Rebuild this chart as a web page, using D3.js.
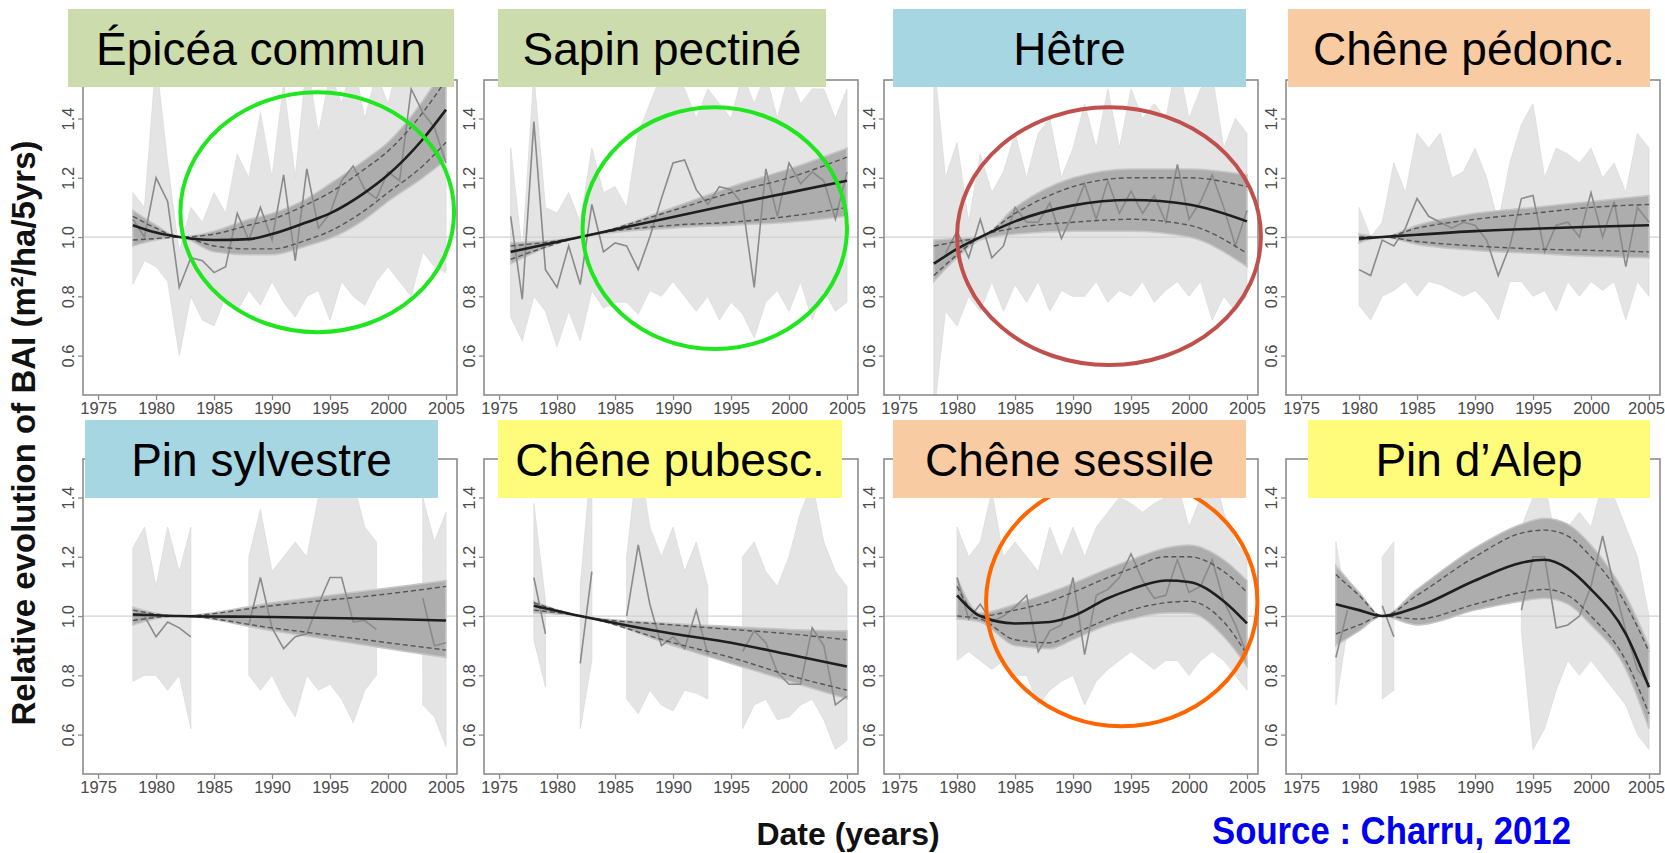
<!DOCTYPE html>
<html>
<head>
<meta charset="utf-8">
<script src="https://cdn.jsdelivr.net/npm/d3@7"></script>
<style>
  body { margin: 0; background: #fff; }
  svg { display: block; font-family: "Liberation Sans", Arial, Helvetica, sans-serif; }
</style>
</head>
<body>
<svg id="chart" width="1665" height="853"></svg>
<script>
// ---------- data ----------
const species = ['Épicéa commun', 'Sapin pectiné', 'Hêtre', 'Chêne pédonc.',
  'Pin sylvestre', 'Chêne pubesc.', 'Chêne sessile', 'Pin d’Alep'];
const firstYear = [1978, 1976, 1978, 1980, 1978, 1978, 1980, 1978];
const xTicks = [1975, 1980, 1985, 1990, 1995, 2000, 2005];
const yTicks = [0.6, 0.8, 1.0, 1.2, 1.4];

// observed relative BAI (grey zigzag), one value per year from firstYear
const epiceaObs = [1.06, 1.0, 1.2, 1.12, 0.83, 0.93, 0.92, 0.88, 0.9, 1.08, 0.99, 1.1, 0.99, 1.21, 0.92, 1.23, 1.03, 1.08, 1.19, 1.24, 1.16, 1.13, 1.22, 1.19, 1.5, 1.42, 1.37, 1.25];
const sapinObs = [1.07, 0.79, 1.39, 0.89, 0.83, 0.97, 0.84, 1.11, 0.95, 0.98, 0.97, 0.89, 1.0, 1.13, 1.25, 1.26, 1.16, 1.11, 1.17, 1.16, 1.11, 0.83, 1.23, 1.07, 1.25, 1.18, 1.22, 1.19, 1.06, 1.22];
const hetreObs = [null, 0.945, 1.02, 0.93, 1.06, 0.93, 0.97, 1.1, 1.05, 1.05, 1.115, 0.995, 1.08, 1.18, 1.06, 1.19, 1.08, 1.155, 1.08, 1.14, 1.05, 1.245, 1.06, 1.12, 1.21, 1.1, 0.97, 1.09];
const pedoncObs = [0.89, 0.87, 0.99, 0.97, 1.03, 1.13, 1.07, 1.05, 1.03, 1.05, 1.04, 0.99, 0.87, 0.97, 1.13, 1.14, 0.95, 1.04, 1.05, 1.0, 1.15, 1.0, 1.12, 0.9, 1.1, 1.05];
const sylvestreObs = [1.0, 1.0, 0.93, 0.98, 0.96, 0.93, null, null, null, null, 0.97, 1.13, 0.96, 0.89, 0.93, 0.94, 1.04, 1.13, 1.13, 0.98, 0.985, 0.955, null, null, null, 1.06, 0.9, 0.91];
const pubescObs = [1.13, 0.94, null, null, 0.84, 1.15, null, null, 1.0, 1.24, 1.04, 0.9, 0.93, 0.89, 1.02, 0.87, null, null, 0.88, 0.95, 0.91, 0.81, 0.77, 0.77, 0.96, 0.9, 0.7, 0.73];
const sessileObs = [1.13, 0.99, 1.04, 0.98, 1.0, 1.03, 1.07, 0.88, 0.95, 0.97, 1.13, 0.87, 1.07, 1.09, 1.13, 1.21, 1.12, 1.06, 1.07, 1.19, 1.08, 1.1, 1.19, 1.05, 0.97, 0.87];
const alepObs = [0.86, 1.02, null, null, 1.035, 0.93, null, null, null, null, null, null, null, null, null, null, 1.02, 1.2, 1.2, 0.96, 0.97, 1.0, 1.1, 1.27, 1.1, 0.95, 0.82, 0.77];

// envelope of the individual-plot series (light grey cloud), per year
const epiceaNoiseHi = [1.15, 1.1, 1.6, 1.25, 0.95, 1.1, 1.05, 1.15, 1.08, 1.28, 1.2, 1.42, 1.2, 1.52, 1.2, 1.6, 1.35, 1.55, 1.45, 1.6, 1.4, 1.55, 1.45, 1.6, 1.5, 1.6, 1.6, 1.6];
const epiceaNoiseLo = [0.84, 0.92, 0.9, 0.85, 0.6, 0.8, 0.72, 0.7, 0.8, 0.75, 0.82, 0.77, 0.85, 0.78, 0.73, 0.8, 0.82, 0.72, 0.85, 0.8, 0.77, 0.85, 0.9, 0.85, 0.8, 0.95, 0.9, 0.88];
const sapinNoiseHi = [1.3, 0.95, 1.55, 1.1, 1.08, 1.15, 1.05, 1.3, 1.15, 1.17, 1.1, 1.35, 1.45, 1.55, 1.55, 1.5, 1.4, 1.5, 1.45, 1.4, 1.55, 1.45, 1.55, 1.4, 1.55, 1.45, 1.5, 1.5, 1.4, 1.5];
const sapinNoiseLo = [0.73, 0.65, 0.8, 0.75, 0.63, 0.75, 0.65, 0.82, 0.76, 0.78, 0.78, 0.74, 0.82, 0.8, 0.85, 0.8, 0.75, 0.8, 0.72, 0.78, 0.74, 0.66, 0.78, 0.82, 0.75, 0.85, 0.72, 0.82, 0.75, 0.78];
const hetreNoiseHi = [1.6, 1.2, 1.32, 1.05, 1.28, 1.15, 1.22, 1.35, 1.2, 1.35, 1.4, 1.2, 1.3, 1.45, 1.3, 1.5, 1.3, 1.5, 1.4, 1.45, 1.4, 1.6, 1.4, 1.5, 1.55, 1.3, 1.4, 1.35];
const hetreNoiseLo = [0.4, 0.75, 0.7, 0.8, 0.75, 0.85, 0.75, 0.84, 0.78, 0.85, 0.75, 0.82, 0.8, 0.8, 0.85, 0.78, 0.82, 0.8, 0.85, 0.78, 0.82, 0.85, 0.8, 0.85, 0.72, 0.8, 0.75, 0.8];
const pedoncNoiseHi = [1.1, 1.0, 1.05, 1.25, 1.15, 1.35, 1.3, 1.35, 1.2, 1.22, 1.3, 1.2, 1.05, 1.25, 1.38, 1.45, 1.2, 1.3, 1.28, 1.25, 1.3, 1.2, 1.25, 1.15, 1.35, 1.3];
const pedoncNoiseLo = [0.77, 0.72, 0.8, 0.82, 0.85, 0.8, 0.85, 0.84, 0.82, 0.8, 0.82, 0.78, 0.72, 0.85, 0.85, 0.8, 0.82, 0.75, 0.85, 0.8, 0.85, 0.82, 0.85, 0.72, 0.85, 0.8];
const sylvestreNoiseHi = [1.23, 1.3, 1.1, 1.3, 1.15, 1.3, null, null, null, null, 1.2, 1.36, 1.15, 1.2, 1.25, 1.2, 1.4, 1.5, 1.5, 1.45, 1.3, 1.25, null, null, null, 1.4, 1.25, 1.35];
const sylvestreNoiseLo = [0.78, 0.8, 0.8, 0.75, 0.8, 0.62, null, null, null, null, 0.8, 0.75, 0.8, 0.72, 0.66, 0.8, 0.75, 0.77, 0.72, 0.64, 0.75, 0.8, null, null, null, 0.7, 0.66, 0.56];
const pubescNoiseHi = [1.38, 1.05, null, null, 1.1, 1.55, null, null, 1.2, 1.55, 1.3, 1.2, 1.3, 1.15, 1.25, 1.1, null, null, 1.2, 1.25, 1.15, 1.1, 1.2, 1.35, 1.45, 1.25, 1.15, 1.1];
const pubescNoiseLo = [0.92, 0.76, null, null, 0.62, 0.85, null, null, 0.72, 0.67, 0.75, 0.7, 0.68, 0.75, 0.74, 0.72, null, null, 0.62, 0.7, 0.72, 0.65, 0.66, 0.7, 0.72, 0.65, 0.55, 0.58];
const sessileNoiseHi = [1.3, 1.2, 1.25, 1.42, 1.2, 1.25, 1.2, 1.15, 1.3, 1.2, 1.3, 1.2, 1.3, 1.35, 1.4, 1.38, 1.35, 1.38, 1.4, 1.45, 1.3, 1.4, 1.5, 1.35, 1.25, 1.2];
const sessileNoiseLo = [0.85, 0.88, 0.85, 0.82, 0.85, 0.8, 0.8, 0.7, 0.75, 0.78, 0.8, 0.7, 0.78, 0.82, 0.85, 0.88, 0.85, 0.82, 0.85, 0.85, 0.8, 0.85, 0.88, 0.85, 0.8, 0.75];
const alepNoiseHi = [1.25, 1.02, null, null, 1.2, 1.25, null, null, null, null, null, null, null, null, null, null, 1.3, 1.4, 1.45, 1.25, 1.3, 1.35, 1.3, 1.45, 1.4, 1.3, 1.2, 1.0];
const alepNoiseLo = [0.7, 0.96, null, null, 0.72, 0.75, null, null, null, null, null, null, null, null, null, null, 0.95, 0.55, 0.62, 0.75, 0.85, 0.8, 0.85, 0.8, 0.75, 0.7, 0.6, 0.55];

// fitted trend (black), its dashed interval and the bootstrap band (dark grey)
const epiceaKnots = [1978, 1980, 1982, 1985, 1988, 1990, 1993, 1995, 1998, 2000, 2003, 2005];
const epiceaMean = [1.04, 1.015, 1.0, 0.99, 0.993, 1.01, 1.05, 1.08, 1.15, 1.21, 1.33, 1.43];
const epiceaDashHi = [1.07, 1.03, 1.0, 1.01, 1.04, 1.06, 1.11, 1.15, 1.23, 1.29, 1.42, 1.53];
const epiceaDashLo = [0.99, 0.995, 1.0, 0.97, 0.96, 0.96, 0.99, 1.02, 1.09, 1.15, 1.24, 1.32];
const epiceaBandHi = [1.09, 1.04, 1.0, 1.02, 1.06, 1.08, 1.13, 1.18, 1.26, 1.32, 1.46, 1.58];
const epiceaBandLo = [0.97, 0.99, 1.0, 0.95, 0.94, 0.94, 0.97, 0.995, 1.06, 1.12, 1.2, 1.26];

const sapinKnots = [1976, 1982, 1990, 1995, 2000, 2005];
const sapinMean = [0.95, 1.0, 1.068, 1.11, 1.15, 1.19];
const sapinDashHi = [0.97, 1.0, 1.09, 1.15, 1.2, 1.27];
const sapinDashLo = [0.925, 1.0, 1.04, 1.05, 1.07, 1.1];
const sapinBandHi = [0.98, 1.0, 1.1, 1.17, 1.23, 1.3];
const sapinBandLo = [0.91, 1.0, 1.03, 1.04, 1.05, 1.07];

const hetreKnots = [1978, 1980, 1982, 1985, 1990, 1995, 2000, 2005];
const hetreMean = [0.91, 0.96, 1.0, 1.053, 1.107, 1.125, 1.11, 1.053];
const hetreDashHi = [0.97, 0.985, 1.0, 1.08, 1.17, 1.2, 1.2, 1.17];
const hetreDashLo = [0.87, 0.94, 1.0, 1.03, 1.05, 1.06, 1.04, 0.945];
const hetreBandHi = [0.99, 0.995, 1.0, 1.1, 1.2, 1.23, 1.23, 1.21];
const hetreBandLo = [0.85, 0.93, 0.99, 1.01, 1.02, 1.02, 1.0, 0.9];

const pedoncKnots = [1980, 1982, 1985, 1990, 1995, 2000, 2005];
const pedoncMean = [0.995, 1.0, 1.008, 1.02, 1.028, 1.035, 1.04];
const pedoncDashHi = [1.0, 1.0, 1.03, 1.06, 1.08, 1.1, 1.11];
const pedoncDashLo = [0.99, 1.0, 0.985, 0.97, 0.96, 0.955, 0.95];
const pedoncBandHi = [1.01, 1.0, 1.04, 1.08, 1.1, 1.12, 1.14];
const pedoncBandLo = [0.98, 1.0, 0.975, 0.955, 0.945, 0.935, 0.93];

const sylvestreKnots = [1978, 1982, 1990, 2000, 2005];
const sylvestreMean = [1.005, 1.0, 0.997, 0.99, 0.985];
const sylvestreDashHi = [1.02, 1.0, 1.035, 1.075, 1.1];
const sylvestreDashLo = [0.985, 1.0, 0.96, 0.91, 0.885];
const sylvestreBandHi = [1.03, 1.0, 1.045, 1.095, 1.12];
const sylvestreBandLo = [0.97, 1.0, 0.95, 0.89, 0.86];

const pubescKnots = [1978, 1982, 1990, 1995, 2000, 2005];
const pubescMean = [1.035, 1.0, 0.94, 0.91, 0.87, 0.83];
const pubescDashHi = [1.045, 1.0, 0.97, 0.955, 0.94, 0.92];
const pubescDashLo = [1.02, 1.0, 0.91, 0.86, 0.8, 0.75];
const pubescBandHi = [1.05, 1.0, 0.975, 0.965, 0.955, 0.95];
const pubescBandLo = [1.01, 1.0, 0.9, 0.84, 0.78, 0.72];

const sessileKnots = [1980, 1982, 1985, 1988, 1990, 1993, 1995, 1998, 2000, 2003, 2005];
const sessileMean = [1.07, 1.0, 0.975, 0.98, 1.0, 1.06, 1.09, 1.12, 1.115, 1.05, 0.975];
const sessileDashHi = [1.1, 1.0, 1.02, 1.05, 1.08, 1.13, 1.16, 1.2, 1.2, 1.15, 1.08];
const sessileDashLo = [1.0, 0.99, 0.92, 0.91, 0.94, 0.99, 1.02, 1.045, 1.05, 0.98, 0.87];
const sessileBandHi = [1.13, 1.01, 1.04, 1.08, 1.11, 1.16, 1.19, 1.23, 1.24, 1.19, 1.12];
const sessileBandLo = [0.99, 0.98, 0.9, 0.89, 0.92, 0.97, 0.99, 1.01, 1.01, 0.93, 0.83];

const alepKnots = [1978, 1980, 1982, 1985, 1990, 1994, 1996, 1998, 2000, 2003, 2005];
const alepMean = [1.04, 1.02, 1.0, 1.03, 1.12, 1.18, 1.19, 1.16, 1.09, 0.94, 0.76];
const alepDashHi = [1.14, 1.07, 1.0, 1.07, 1.2, 1.28, 1.29, 1.27, 1.2, 1.04, 0.88];
const alepDashLo = [0.94, 0.97, 1.0, 0.99, 1.04, 1.08, 1.09, 1.07, 1.0, 0.85, 0.67];
const alepBandHi = [1.17, 1.08, 1.0, 1.09, 1.23, 1.31, 1.33, 1.31, 1.24, 1.07, 0.9];
const alepBandLo = [0.9, 0.95, 1.0, 0.97, 1.02, 1.05, 1.06, 1.04, 0.97, 0.82, 0.62];

// highlighted regions (ellipses), in data units of their panel
const ringPanel = [0, 1, 2, 6];
const ringYear = [1993.9, 1993.6, 1993.1, 1994.2];
const ringValue = [1.084, 1.03, 1.003, 1.048];
const ringHalfYears = [11.8, 11.4, 13.1, 11.7];
const ringHalfValue = [0.405, 0.408, 0.435, 0.42];

// ---------- styling ----------
const labelFill = ['#cddcac', '#cddcac', '#a6d6e2', '#f9cba2', '#a6d6e2', '#fffb7b', '#f9cba2', '#fffb7b'];
const ringStroke = ['#1fe61f', '#1fe61f', '#c0504d', '#ff6600'];
const labelBox = [[68, 454], [498, 826], [893, 1246], [1288, 1650], [85, 438], [498, 842], [893, 1246], [1308, 1650]];

// ---------- layout ----------
const colLeft = [83, 484, 884, 1286];
const rowTop = [80, 459];
const labelTop = [9, 420];
const panelW = 374;
const panelH = 315;

const svg = d3.select('#chart');

const x = d3.scaleLinear().domain([1973.7, 2005.95]).range([0, panelW]);
const y = d3.scaleLinear().domain([0.467, 1.53]).range([panelH, 0]);

const series = [
  ['epicea', epiceaObs, epiceaNoiseHi, epiceaNoiseLo, epiceaKnots, epiceaMean, epiceaDashHi, epiceaDashLo, epiceaBandHi, epiceaBandLo],
  ['sapin', sapinObs, sapinNoiseHi, sapinNoiseLo, sapinKnots, sapinMean, sapinDashHi, sapinDashLo, sapinBandHi, sapinBandLo],
  ['hetre', hetreObs, hetreNoiseHi, hetreNoiseLo, hetreKnots, hetreMean, hetreDashHi, hetreDashLo, hetreBandHi, hetreBandLo],
  ['pedonc', pedoncObs, pedoncNoiseHi, pedoncNoiseLo, pedoncKnots, pedoncMean, pedoncDashHi, pedoncDashLo, pedoncBandHi, pedoncBandLo],
  ['sylvestre', sylvestreObs, sylvestreNoiseHi, sylvestreNoiseLo, sylvestreKnots, sylvestreMean, sylvestreDashHi, sylvestreDashLo, sylvestreBandHi, sylvestreBandLo],
  ['pubesc', pubescObs, pubescNoiseHi, pubescNoiseLo, pubescKnots, pubescMean, pubescDashHi, pubescDashLo, pubescBandHi, pubescBandLo],
  ['sessile', sessileObs, sessileNoiseHi, sessileNoiseLo, sessileKnots, sessileMean, sessileDashHi, sessileDashLo, sessileBandHi, sessileBandLo],
  ['alep', alepObs, alepNoiseHi, alepNoiseLo, alepKnots, alepMean, alepDashHi, alepDashLo, alepBandHi, alepBandLo]
];

// generators
const noiseArea = d3.area()
  .defined(d => d.hi != null)
  .x(d => x(d.year)).y0(d => y(d.lo)).y1(d => y(d.hi));
const obsLine = d3.line()
  .defined(d => d.v != null)
  .x(d => x(d.year)).y(d => y(d.v));
const bandArea = d3.area()
  .curve(d3.curveMonotoneX)
  .x(d => x(d.year)).y0(d => y(d.lo)).y1(d => y(d.hi));
const smoothLine = d3.line()
  .curve(d3.curveMonotoneX)
  .x(d => x(d.year)).y(d => y(d.v));

const defs = svg.append('defs');
defs.append('clipPath').attr('id', 'plotclip')
  .append('rect').attr('width', panelW).attr('height', panelH);

series.forEach((s, i) => {
  const [key, obs, nHi, nLo, knots, mean, dHi, dLo, bHi, bLo] = s;
  const col = i % 4, row = Math.floor(i / 4);
  const g = svg.append('g')
    .attr('class', 'panel ' + key)
    .attr('transform', `translate(${colLeft[col]}, ${rowTop[row]})`);

  const start = firstYear[i];
  const noise = nHi.map((hi, k) => ({ year: start + k, hi: hi, lo: nLo[k] }));
  const observed = obs.map((v, k) => ({ year: start + k, v: v }));
  const band = knots.map((yr, k) => ({ year: yr, hi: bHi[k], lo: bLo[k] }));
  const pts = arr => knots.map((yr, k) => ({ year: yr, v: arr[k] }));

  const plot = g.append('g').attr('clip-path', 'url(#plotclip)');

  // light cloud of individual series
  plot.append('path')
    .datum(noise)
    .attr('d', noiseArea)
    .attr('fill', '#e4e4e4')
    .attr('stroke', '#dcdcdc')
    .attr('stroke-width', 0.8);

  // reference line at 1.0
  plot.append('line')
    .attr('x1', 0).attr('x2', panelW)
    .attr('y1', y(1)).attr('y2', y(1))
    .attr('stroke', '#d2d2d2')
    .attr('stroke-width', 1.2);

  // bootstrap band
  plot.append('path')
    .datum(band)
    .attr('d', bandArea)
    .attr('fill', '#adadad')
    .attr('stroke', '#c6c6c6')
    .attr('stroke-width', 1.5);

  // observed mean series
  plot.append('path')
    .datum(observed)
    .attr('d', obsLine)
    .attr('fill', 'none')
    .attr('stroke', '#8a8a8a')
    .attr('stroke-width', 1.6);

  // dashed interval
  [dHi, dLo].forEach(arr => {
    plot.append('path')
      .datum(pts(arr))
      .attr('d', smoothLine)
      .attr('fill', 'none')
      .attr('stroke', '#555')
      .attr('stroke-width', 1.4)
      .attr('stroke-dasharray', '5,3');
  });

  // fitted trend
  plot.append('path')
    .datum(pts(mean))
    .attr('d', smoothLine)
    .attr('fill', 'none')
    .attr('stroke', '#1e1e1e')
    .attr('stroke-width', 2.6);

  // axes
  const xAxis = d3.axisBottom(x).tickValues(xTicks).tickFormat(d3.format('d')).tickSize(5).tickPadding(2);
  const xg = g.append('g').attr('transform', `translate(0, ${panelH})`).call(xAxis);
  const yAxis = d3.axisLeft(y).tickValues(yTicks).tickFormat(d3.format('.1f')).tickSize(5);
  const yg = g.append('g').call(yAxis);

  [xg, yg].forEach(ax => {
    ax.select('.domain').remove();
    ax.selectAll('line').attr('stroke', '#8c8c8c').attr('stroke-width', 1.3);
    ax.selectAll('text')
      .attr('fill', '#4a4a4a')
      .style('font-size', '16.5px')
      .style('font-family', '"Liberation Sans", Arial, sans-serif');
  });
  // the right-most 2005 label sits against the page edge
  if (col === 3) {
    xg.selectAll('text').filter(d => d === 2005).attr('dx', -3);
  }
  yg.selectAll('text')
    .attr('transform', 'rotate(-90)')
    .attr('x', 0)
    .attr('y', -9)
    .attr('dy', null)
    .attr('text-anchor', 'middle');

  // frame
  g.append('rect')
    .attr('width', panelW).attr('height', panelH)
    .attr('fill', 'none')
    .attr('stroke', '#8c8c8c')
    .attr('stroke-width', 1.6);
});

// ellipses
ringPanel.forEach((p, k) => {
  const col = p % 4, row = Math.floor(p / 4);
  svg.append('ellipse')
    .attr('cx', colLeft[col] + x(ringYear[k]))
    .attr('cy', rowTop[row] + y(ringValue[k]))
    .attr('rx', x(ringYear[k] + ringHalfYears[k]) - x(ringYear[k]))
    .attr('ry', y(ringValue[k] - ringHalfValue[k]) - y(ringValue[k]))
    .attr('fill', 'none')
    .attr('stroke', ringStroke[k])
    .attr('stroke-width', 4);
});

// species label boxes
species.forEach((name, i) => {
  const row = Math.floor(i / 4);
  const [x0, x1] = labelBox[i];
  svg.append('rect')
    .attr('x', x0).attr('y', labelTop[row])
    .attr('width', x1 - x0).attr('height', 78)
    .attr('fill', labelFill[i]);
  svg.append('text')
    .attr('x', (x0 + x1) / 2)
    .attr('y', labelTop[row] + 56)
    .attr('text-anchor', 'middle')
    .style('font-size', '46px')
    .attr('fill', '#000')
    .text(name);
});

// axis titles and source
svg.append('text')
  .attr('transform', 'translate(35, 433) rotate(-90)')
  .attr('text-anchor', 'middle')
  .style('font-size', '33px')
  .style('font-weight', 'bold')
  .attr('fill', '#111')
  .text('Relative evolution of BAI (m²/ha/5yrs)');

svg.append('text')
  .attr('x', 848).attr('y', 845)
  .attr('text-anchor', 'middle')
  .style('font-size', '32px')
  .style('font-weight', 'bold')
  .attr('fill', '#111')
  .text('Date (years)');

svg.append('text')
  .attr('x', 1212).attr('y', 844)
  .attr('textLength', 359)
  .attr('lengthAdjust', 'spacingAndGlyphs')
  .style('font-size', '38px')
  .style('font-weight', 'bold')
  .attr('fill', '#0000ee')
  .text('Source : Charru, 2012');
</script>
</body>
</html>
